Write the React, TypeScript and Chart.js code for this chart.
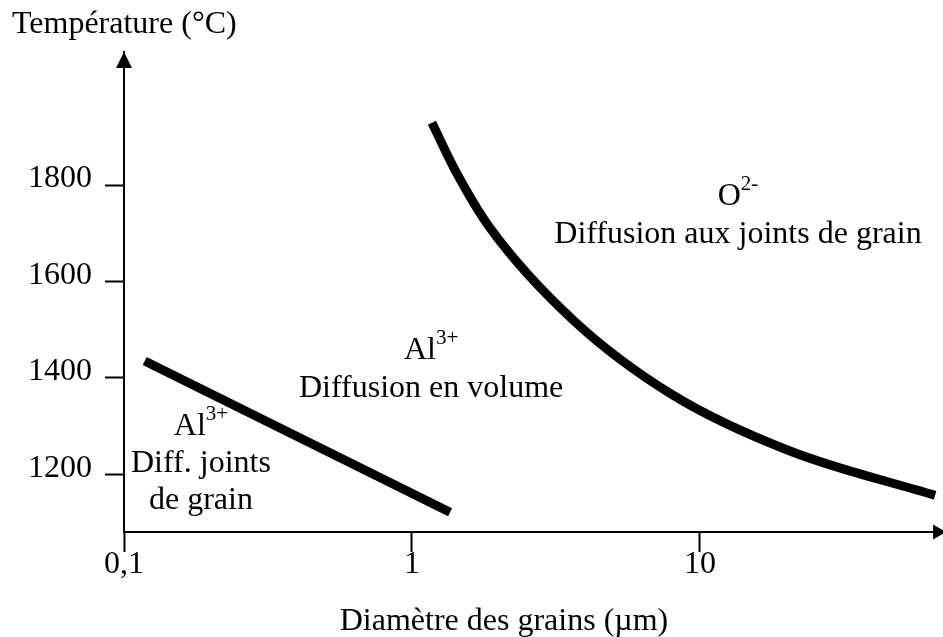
import React, { useEffect, useRef } from "react";
import { Chart, registerables } from "chart.js";

Chart.register(...registerables);

// ---- Axis ticks ----
const xTickValues = [0.1, 1, 10];
const xTickLabels = ["0,1", "1", "10"];
const yTickValues = [1200, 1400, 1600, 1800];
const yTickLabels = ["1200", "1400", "1600", "1800"];

const xRange = [0.1, 69.8];
const yRange = [1080, 2076];

// ---- Series: Al3+ grain-boundary / volume diffusion boundary ----
const alBoundaryX = [0.118, 1.356];
const alBoundaryY = [1435, 1121];

// ---- Series: O2- grain-boundary diffusion boundary ----
const oBoundaryX = [1.173, 1.411, 1.866, 3.624, 8.06, 20.54, 65.5];
const oBoundaryY = [1929, 1831, 1711, 1520, 1364, 1248, 1156];

// ---- Texts ----
const xAxisTitle = "Diamètre des grains (µm)";
const yAxisTitle = "Température (°C)";

// region labels (main text, superscript) anchored in data coordinates
const regionMain = ["O", "Diffusion aux joints de grain", "Al", "Diffusion en volume", "Al", "Diff. joints", "de grain"];
const regionSup = ["2-", "", "3+", "", "3+", "", ""];
const regionX = [13.55, 13.55, 1.165, 1.165, 0.185, 0.185, 0.185];
const regionY = [1758, 1680, 1439, 1360, 1281, 1204, 1127];

const FONT = "'Liberation Serif', 'Times New Roman', serif";
const FS = 32;

const overlay = {
  id: "overlay",
  afterDraw(chart: any) {
    const { ctx, chartArea: a, scales } = chart;
    const xs = scales.x;
    const ys = scales.y;
    ctx.save();
    ctx.fillStyle = "#000";
    // y arrow head
    ctx.beginPath();
    ctx.moveTo(a.left, a.top);
    ctx.lineTo(a.left - 8, a.top + 16);
    ctx.lineTo(a.left + 8, a.top + 16);
    ctx.closePath();
    ctx.fill();
    // x arrow head
    ctx.beginPath();
    ctx.moveTo(a.right + 3, a.bottom);
    ctx.lineTo(a.right - 10, a.bottom - 7.5);
    ctx.lineTo(a.right - 10, a.bottom + 7.5);
    ctx.closePath();
    ctx.fill();

    ctx.textBaseline = "alphabetic";
    ctx.font = `${FS}px ${FONT}`;
    ctx.textAlign = "left";
    ctx.fillText(yAxisTitle, 12, 33);
    ctx.textAlign = "center";
    ctx.fillText(xAxisTitle, 504, 630);

    // region labels
    ctx.textAlign = "left";
    for (let i = 0; i < regionMain.length; i++) {
      const cx = xs.getPixelForValue(regionX[i]);
      const by = ys.getPixelForValue(regionY[i]);
      ctx.font = `${FS}px ${FONT}`;
      const wMain = ctx.measureText(regionMain[i]).width;
      ctx.font = `21px ${FONT}`;
      const wSup = regionSup[i] ? ctx.measureText(regionSup[i]).width : 0;
      const x0 = cx - (wMain + wSup) / 2;
      ctx.font = `${FS}px ${FONT}`;
      ctx.fillText(regionMain[i], x0, by);
      if (regionSup[i]) {
        ctx.font = `21px ${FONT}`;
        ctx.fillText(regionSup[i], x0 + wMain, by - 15);
      }
    }
    ctx.restore();
  },
};

export default function App() {
  const ref = useRef<HTMLCanvasElement | null>(null);
  useEffect(() => {
    document.body.style.margin = "0";
    const canvas = ref.current;
    if (!canvas) return;
    const chart = new Chart(canvas, {
      type: "scatter",
      data: {
        datasets: [
          {
            label: "Al3+",
            data: alBoundaryX.map((x, i) => ({ x, y: alBoundaryY[i] })),
            showLine: true,
            borderColor: "#000",
            backgroundColor: "#000",
            borderWidth: 9,
            borderCapStyle: "butt",
            pointRadius: 0,
          },
          {
            label: "O2-",
            data: oBoundaryX.map((x, i) => ({ x, y: oBoundaryY[i] })),
            showLine: true,
            borderColor: "#000",
            backgroundColor: "#000",
            borderWidth: 9,
            borderCapStyle: "butt",
            borderJoinStyle: "round",
            pointRadius: 0,
            cubicInterpolationMode: "monotone",
          },
        ],
      },
      options: {
        responsive: false,
        animation: false,
        devicePixelRatio: 1,
        layout: { padding: { top: 52, left: 0, right: 0, bottom: 0 } },
        plugins: { legend: { display: false }, tooltip: { enabled: false }, title: { display: false } },
        font: { family: FONT },
        scales: {
          x: {
            type: "logarithmic",
            min: xRange[0],
            max: xRange[1],
            afterBuildTicks: (s: any) => {
              s.ticks = xTickValues.map((v) => ({ value: v }));
            },
            afterFit: (s: any) => {
              s.height = 105;
            },
            grid: { display: true, drawOnChartArea: false, drawTicks: true, tickLength: 20, tickWidth: 2, tickColor: "#000" },
            border: { display: true, color: "#000", width: 2 },
            ticks: {
              autoSkip: false,
              maxRotation: 0,
              padding: -7,
              color: "#000",
              font: { family: FONT, size: FS },
              callback: (v: any) => {
                const i = xTickValues.findIndex((t) => Math.abs(t - Number(v)) < 1e-9);
                return i >= 0 ? xTickLabels[i] : "";
              },
            },
          },
          y: {
            type: "linear",
            min: yRange[0],
            max: yRange[1],
            afterBuildTicks: (s: any) => {
              s.ticks = yTickValues.map((v) => ({ value: v }));
            },
            afterFit: (s: any) => {
              s.width = 124;
            },
            grid: { display: true, drawOnChartArea: false, drawTicks: true, tickLength: 19, tickWidth: 2, tickColor: "#000" },
            border: { display: true, color: "#000", width: 2 },
            ticks: {
              autoSkip: false,
              padding: 13,
              labelOffset: -6,
              color: "#000",
              font: { family: FONT, size: FS },
              callback: (v: any) => {
                const i = yTickValues.indexOf(Number(v));
                return i >= 0 ? yTickLabels[i] : "";
              },
            },
          },
        },
      },
      plugins: [overlay],
    } as any);
    return () => chart.destroy();
  }, []);
  return (
    <div style={{ width: 943, height: 637, overflow: "hidden" }}>
      <canvas ref={ref} width={943} height={637} style={{ display: "block" }} />
    </div>
  );
}
